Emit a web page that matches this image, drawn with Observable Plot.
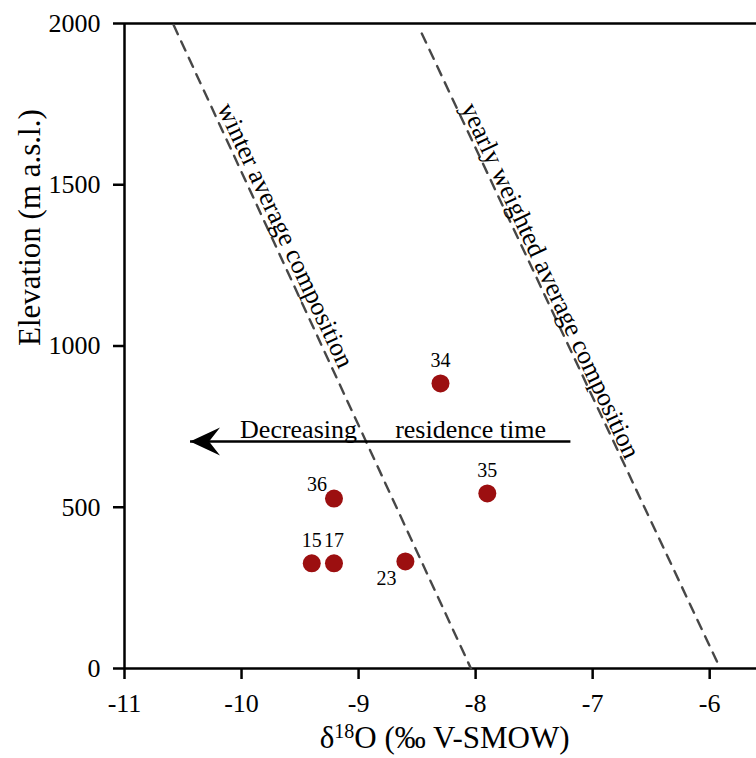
<!DOCTYPE html>
<html><head><meta charset="utf-8">
<script src="https://cdn.jsdelivr.net/npm/d3@7"></script>
<script src="https://cdn.jsdelivr.net/npm/@observablehq/plot@0.6"></script>
<style>body{margin:0;background:#fff}</style>
</head><body><div id="chart"></div>
<script>
// ---- data ----
const sampleIds = ["15", "17", "23", "34", "35", "36"];
const d18O = [-9.40, -9.21, -8.60, -8.30, -7.90, -9.21];
const elevation = [326, 326, 332, 884, 543, 527];

const refLineNames = ["winter average composition", "yearly weighted average composition"];
const refLineTopD18O = [-10.58, -8.46];
const refLineTopElev = [1995, 1969];
const refLineBottomD18O = [-8.04, -5.91];
const refLineBottomElev = [0, 0];

const arrowStartD18O = -7.19;
const arrowEndD18O = -10.44;
const arrowElev = 704;
const arrowWords = ["Decreasing", "residence time"];
const arrowWordD18O = [-9.513, -8.043];

const xTicks = [-11, -10, -9, -8, -7, -6];
const yTicks = [0, 500, 1000, 1500, 2000];
const xTitle = "δ18O (‰ V-SMOW)";
const yTitle = "Elevation (m a.s.l.)";

// ---- tables built from arrays ----
const points = sampleIds.map((id, i) => ({id, d: d18O[i], e: elevation[i]}));
const refLines = refLineNames.flatMap((name, i) => [
  {name, d: refLineTopD18O[i], e: refLineTopElev[i]},
  {name, d: refLineBottomD18O[i], e: refLineBottomElev[i]}
]);
const arrowRows = [{x1: arrowStartD18O, x2: arrowEndD18O, y: arrowElev}];
const arrowText = arrowWords.map((w, i) => ({w, d: arrowWordD18O[i], e: arrowElev + 12}));
// label anchor positions (center of rotated labels)
const refLabels = [
  {name: refLineNames[0], d: -9.624, e: 1343},
  {name: refLineNames[1], d: -7.359, e: 1203}
];

// barbed, filled arrowhead pointing left, origin at the tip
const arrowHead = {
  draw(ctx) {
    ctx.moveTo(0, 0);
    ctx.lineTo(30, -14);
    ctx.lineTo(19, 0);
    ctx.lineTo(30, 14);
    ctx.closePath();
  }
};

const serif = "'Liberation Serif', 'Times New Roman', serif";
const upLabel = points.filter(p => !["23", "36"].includes(p.id));

const plot = Plot.plot({
  width: 756, height: 758,
  marginLeft: 124, marginRight: 0, marginTop: 23, marginBottom: 90,
  style: {fontFamily: serif, fontSize: "26px", color: "#000", background: "#fff", overflow: "visible"},
  x: {domain: [-11, -5.6]},
  y: {domain: [0, 2000]},
  marks: [
    Plot.axisX({ticks: xTicks, tickSize: 11, tickPadding: 14, fontSize: 26, label: null, strokeWidth: 2.5, tickFormat: d => String(d)}),
    Plot.axisY({ticks: yTicks, tickSize: 11, tickPadding: 13, fontSize: 26, label: null, strokeWidth: 2.5, tickFormat: d => String(d)}),
    Plot.ruleX([-11], {stroke: "#000", strokeWidth: 2.5}),
    Plot.ruleY([0, 2000], {stroke: "#000", strokeWidth: 2.5}),
    Plot.line(refLines, {x: "d", y: "e", z: "name", stroke: "#474747", strokeWidth: 2.4, strokeDasharray: "10,8"}),
    Plot.text(refLabels, {x: "d", y: "e", text: "name", rotate: 65, fontSize: 26, fill: "#000"}),
    Plot.link(arrowRows, {x1: "x1", x2: "x2", y1: "y", y2: "y", stroke: "#000", strokeWidth: 2.5}),
    Plot.dot(arrowRows, {x: "x2", y: "y", symbol: arrowHead, fill: "#000", stroke: "none"}),
    Plot.text(arrowText, {x: "d", y: "e", text: "w", lineAnchor: "bottom", fontSize: 26, fill: "#000"}),
    Plot.dot(points, {x: "d", y: "e", r: 9, fill: "#9c0f10", stroke: "none"}),
    Plot.text(upLabel, {x: "d", y: "e", text: "id", dy: -23, fontSize: 20, fill: "#000"}),
    Plot.text(points.filter(p => p.id === "23"), {x: "d", y: "e", text: "id", dx: -19, dy: 17, fontSize: 20, fill: "#000"}),
    Plot.text(points.filter(p => p.id === "36"), {x: "d", y: "e", text: "id", dx: -17, dy: -14, fontSize: 20, fill: "#000"}),
    Plot.text([yTitle], {frameAnchor: "left", y: () => 1000, text: d => d, dx: -94, rotate: -90, fontSize: 31, fill: "#000"}),
    Plot.text([xTitle], {x: () => -8.265, frameAnchor: "bottom", text: d => d, dy: 79, fontSize: 31, fill: "#000"})
  ]
});
document.getElementById("chart").appendChild(plot);

// superscript the "18" of δ18O
d3.select(plot).selectAll("text").each(function() {
  if (this.textContent === xTitle) {
    const t = d3.select(this);
    t.text("");
    t.append("tspan").text("δ");
    t.append("tspan").attr("dy", -10).attr("font-size", 20).text("18");
    t.append("tspan").attr("dy", 10).text("O (‰ V-SMOW)");
  }
});
</script>
</body></html>
